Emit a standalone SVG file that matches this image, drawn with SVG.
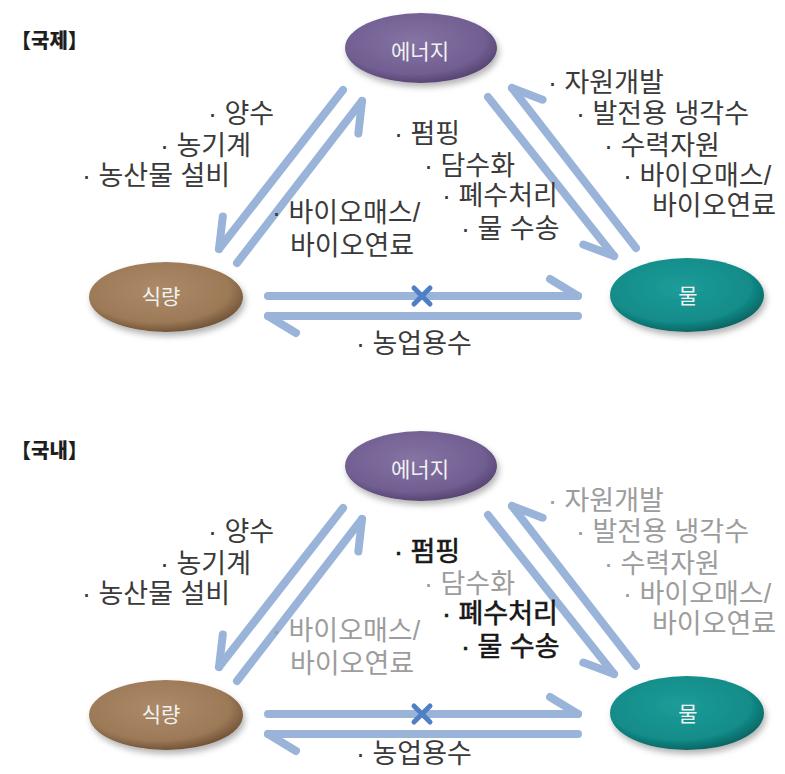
<svg xmlns="http://www.w3.org/2000/svg" width="785" height="774" viewBox="0 0 785 774">
  <style>
    .bg { fill: #ffffff; }
    .link { fill: none; stroke: #9ab4d9; stroke-width: 8; stroke-linecap: round; stroke-linejoin: round; }
    .barb { fill: none; stroke: #9ab4d9; stroke-width: 8; stroke-linecap: round; }
    .cross { fill: none; stroke: #4f80c6; stroke-width: 5; stroke-linecap: round; }
    .title { font-family: "Noto Sans CJK KR", sans-serif; font-size: 20px; font-weight: 900; fill: #1e1e1e; }
    .lbl { font-family: "Liberation Sans", "Noto Sans CJK KR", sans-serif; font-size: 27px; fill: #3a3a3a; }
    .muted { fill: #9c9c9c; }
    .strong { fill: #161616; stroke: #161616; stroke-width: 0.6; }
    .node-txt { font-family: "Noto Sans CJK KR", sans-serif; font-size: 21px; fill: #f2f2f2; text-anchor: middle; }
  </style>
  <defs>
    <radialGradient id="g-energy" cx="45%" cy="40%" r="62%">
      <stop offset="0" stop-color="#8473a3"/>
      <stop offset="0.75" stop-color="#725f92"/>
      <stop offset="1" stop-color="#54426f"/>
    </radialGradient>
    <radialGradient id="g-food" cx="45%" cy="40%" r="62%">
      <stop offset="0" stop-color="#ad8b69"/>
      <stop offset="0.75" stop-color="#9c7957"/>
      <stop offset="1" stop-color="#6d5034"/>
    </radialGradient>
    <radialGradient id="g-water" cx="45%" cy="40%" r="62%">
      <stop offset="0" stop-color="#1d9c99"/>
      <stop offset="0.75" stop-color="#128c89"/>
      <stop offset="1" stop-color="#0a605e"/>
    </radialGradient>
    <filter id="soft-shadow" x="-20%" y="-30%" width="140%" height="170%">
      <feGaussianBlur in="SourceAlpha" stdDeviation="3"/>
      <feOffset dx="2" dy="4" result="b"/>
      <feFlood flood-color="#000000" flood-opacity="0.3"/>
      <feComposite in2="b" operator="in"/>
      <feMerge>
        <feMergeNode/>
        <feMergeNode in="SourceGraphic"/>
      </feMerge>
    </filter>
    <!-- one-sided arrowheads (harpoons): barb on the right / left of travel -->
    <marker id="barb-r" markerUnits="userSpaceOnUse" orient="auto" viewBox="-40 -25 50 50" markerWidth="50" markerHeight="50" refX="0" refY="0" overflow="visible">
      <path class="barb" d="M-28,17 L0,0"/>
    </marker>
    <marker id="barb-l" markerUnits="userSpaceOnUse" orient="auto" viewBox="-40 -25 50 50" markerWidth="50" markerHeight="50" refX="0" refY="0" overflow="visible">
      <path class="barb" d="M-28,-17 L0,0"/>
    </marker>
  </defs>

  <rect class="bg" x="0" y="0" width="785" height="774"/>

  <!-- ===== international panel ===== -->
  <g id="intl">
    <text class="title" x="11" y="48">【국제】</text>

    <g id="intl-connectors">
      <path class="link" d="M343,90 L219,249" marker-end="url(#barb-r)"/>
      <path class="link" d="M237,263 L362,101" marker-end="url(#barb-r)"/>
      <path class="link" d="M488,97 L614,256" marker-end="url(#barb-r)"/>
      <path class="link" d="M636,248 L512,88" marker-end="url(#barb-r)"/>
      <path class="link" d="M268,296 L578,296" marker-end="url(#barb-l)"/>
      <path class="link" d="M578,316 L268,316" marker-end="url(#barb-l)"/>
      <path class="cross" d="M414,288 L430,304 M414,304 L430,288"/>
    </g>

    <g id="intl-energy">
      <ellipse cx="421" cy="48" rx="76" ry="35" fill="url(#g-energy)" filter="url(#soft-shadow)"/>
      <text class="node-txt" x="420" y="59">에너지</text>
    </g>
    <g id="intl-food">
      <ellipse cx="166" cy="297" rx="77" ry="35" fill="url(#g-food)" filter="url(#soft-shadow)"/>
      <text class="node-txt" x="161" y="304">식량</text>
    </g>
    <g id="intl-water">
      <ellipse cx="687" cy="295" rx="77" ry="37" fill="url(#g-water)" filter="url(#soft-shadow)"/>
      <text class="node-txt" x="688" y="303">물</text>
    </g>

    <g id="intl-labels">
      <text class="lbl" x="208" y="123">· 양수</text>
      <text class="lbl" x="160" y="155">· 농기계</text>
      <text class="lbl" x="82" y="185">· 농산물 설비</text>
      <text class="lbl" x="272" y="222">· 바이오매스/</text>
      <text class="lbl" x="290" y="255">바이오연료</text>
      <text class="lbl" x="394" y="143">· 펌핑</text>
      <text class="lbl" x="424" y="175">· 담수화</text>
      <text class="lbl" x="442" y="205">· 폐수처리</text>
      <text class="lbl" x="461" y="238">· 물 수송</text>
      <text class="lbl" x="548" y="92">· 자원개발</text>
      <text class="lbl" x="576" y="123">· 발전용 냉각수</text>
      <text class="lbl" x="604" y="155">· 수력자원</text>
      <text class="lbl" x="623" y="185">· 바이오매스/</text>
      <text class="lbl" x="652" y="215">바이오연료</text>
      <text class="lbl" x="356" y="353">· 농업용수</text>
    </g>
  </g>

  <!-- ===== domestic panel ===== -->
  <g id="dom">
    <text class="title" x="11" y="458">【국내】</text>

    <g id="dom-connectors" transform="translate(0,418)">
      <path class="link" d="M343,90 L219,249" marker-end="url(#barb-r)"/>
      <path class="link" d="M237,263 L362,101" marker-end="url(#barb-r)"/>
      <path class="link" d="M488,97 L614,256" marker-end="url(#barb-r)"/>
      <path class="link" d="M636,248 L512,88" marker-end="url(#barb-r)"/>
      <path class="link" d="M268,296 L578,296" marker-end="url(#barb-l)"/>
      <path class="link" d="M578,316 L268,316" marker-end="url(#barb-l)"/>
      <path class="cross" d="M414,288 L430,304 M414,304 L430,288"/>
    </g>

    <g id="dom-energy" transform="translate(0,418)">
      <ellipse cx="421" cy="48" rx="76" ry="35" fill="url(#g-energy)" filter="url(#soft-shadow)"/>
      <text class="node-txt" x="420" y="59">에너지</text>
    </g>
    <g id="dom-food" transform="translate(0,418)">
      <ellipse cx="166" cy="297" rx="77" ry="35" fill="url(#g-food)" filter="url(#soft-shadow)"/>
      <text class="node-txt" x="161" y="304">식량</text>
    </g>
    <g id="dom-water" transform="translate(0,418)">
      <ellipse cx="687" cy="295" rx="77" ry="37" fill="url(#g-water)" filter="url(#soft-shadow)"/>
      <text class="node-txt" x="688" y="303">물</text>
    </g>

    <g id="dom-labels" transform="translate(0,418)">
      <text class="lbl" x="208" y="123">· 양수</text>
      <text class="lbl" x="160" y="155">· 농기계</text>
      <text class="lbl" x="82" y="185">· 농산물 설비</text>
      <text class="lbl muted" x="272" y="222">· 바이오매스/</text>
      <text class="lbl muted" x="290" y="255">바이오연료</text>
      <text class="lbl strong" x="394" y="143">· 펌핑</text>
      <text class="lbl muted" x="424" y="175">· 담수화</text>
      <text class="lbl strong" x="442" y="205">· 폐수처리</text>
      <text class="lbl strong" x="461" y="238">· 물 수송</text>
      <text class="lbl muted" x="548" y="92">· 자원개발</text>
      <text class="lbl muted" x="576" y="123">· 발전용 냉각수</text>
      <text class="lbl muted" x="604" y="155">· 수력자원</text>
      <text class="lbl muted" x="623" y="185">· 바이오매스/</text>
      <text class="lbl muted" x="652" y="215">바이오연료</text>
      <text class="lbl" x="356" y="345">· 농업용수</text>
    </g>
  </g>
</svg>
